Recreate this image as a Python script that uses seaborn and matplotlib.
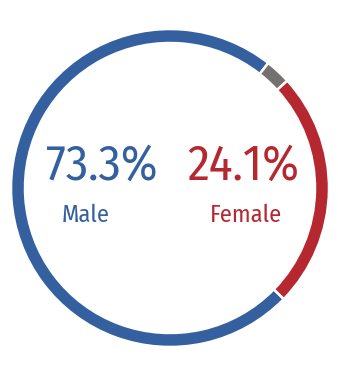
import matplotlib
matplotlib.use("Agg")
import matplotlib.pyplot as plt
from matplotlib import font_manager
import seaborn as sns

labels = ["Male", "Other", "Female"]
values = [73.3, 2.6, 24.1]
colors = ["#3460A0", "#767171", "#B5282F"]
shown = ["73.3%", "24.1%"]
shown_labels = ["Male", "Female"]

sns.set_theme(style="white")
names = {f.name for f in font_manager.fontManager.ttflist}
family = "DejaVu Sans"
for cand in ["Fira Sans Condensed", "Roboto Condensed", "Liberation Sans Narrow", "Open Sans", "Noto Sans"]:
    if cand in names:
        family = cand
        break
plt.rcParams["font.family"] = [family, "DejaVu Sans"]

fig = plt.figure(figsize=(3.38, 3.75), dpi=100)
ax = fig.add_axes([0, 0, 1, 1])
ax.pie(values, colors=colors, radius=159, startangle=-44.3, counterclock=False,
       wedgeprops=dict(width=14, edgecolor="white", linewidth=1.8))
ax.set_xlim(-170, 168)
ax.set_ylim(-187, 188)
ax.set_aspect("equal")
ax.axis("off")

ax.text(102 - 170, 188 - 166.5, shown[0], color=colors[0], fontsize=35.5,
        ha="center", va="center", stretch="condensed")
ax.text(243 - 170, 188 - 166.5, shown[1], color=colors[2], fontsize=35.5,
        ha="center", va="center", stretch="condensed")
ax.text(86 - 170, 188 - 215.5, shown_labels[0], color=colors[0], fontsize=17.5,
        ha="center", va="center", stretch="condensed")
ax.text(246 - 170, 188 - 215.5, shown_labels[1], color=colors[2], fontsize=17.5,
        ha="center", va="center", stretch="condensed")

fig.savefig("out.png", dpi=100)
